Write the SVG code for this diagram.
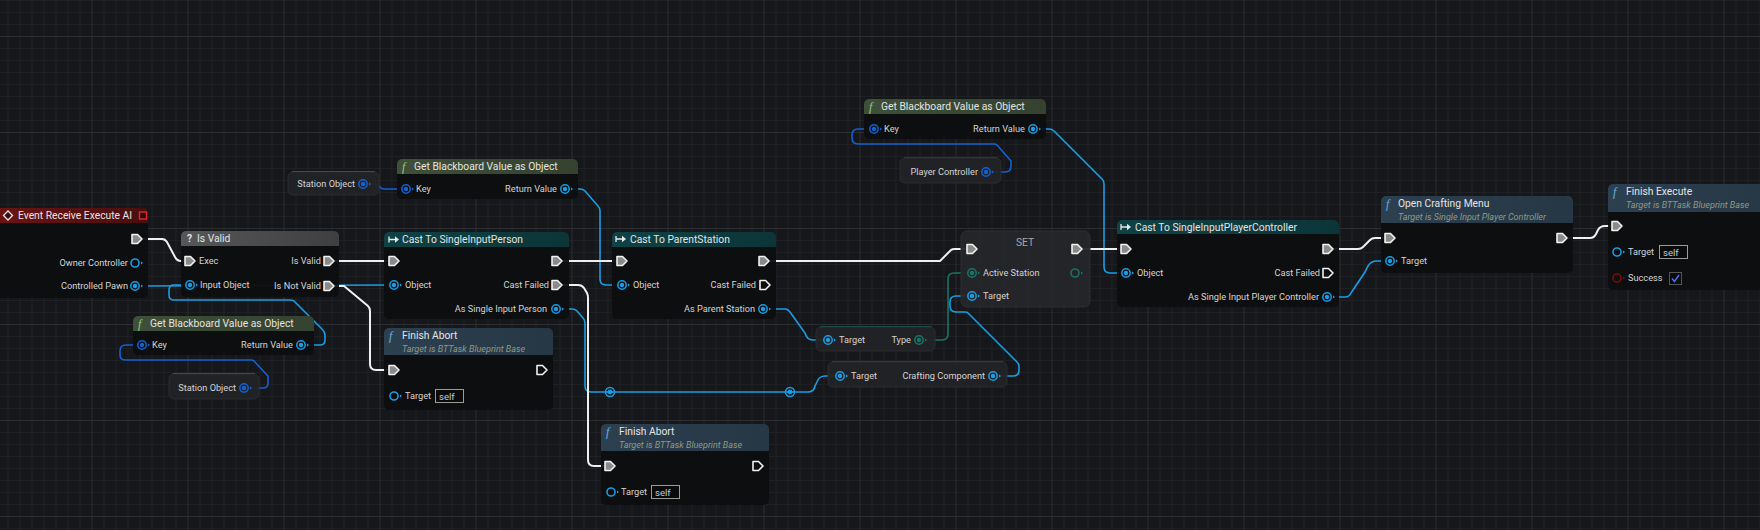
<svg xmlns="http://www.w3.org/2000/svg" xmlns:xlink="http://www.w3.org/1999/xlink" width="1760" height="530" viewBox="0 0 1760 530">
<style>
text{font-family:Roboto,"Liberation Sans",sans-serif}
.t{font-size:10.3px;fill:#e4e4e4}
.p{font-size:9.2px;fill:#d4d4d4}
.s{font-size:9px;font-style:italic;fill:#8e9a84}
.r{text-anchor:end}
.body{fill:#0d0e10;fill-opacity:.95}
.var{fill:#222326;fill-opacity:.95;stroke:#2c2d30;stroke-width:1}
.w{stroke:#efefef;stroke-width:2;fill:none}
.b{stroke:#1b9de4;stroke-width:1.6;fill:none}
.db{stroke:#1461d2;stroke-width:1.6;fill:none}
.tl{stroke:#177566;stroke-width:1.6;fill:none}
.fn{font-family:"Liberation Serif",serif;font-style:italic;font-size:12px}
.self{fill:#0b0b0c;stroke:#9a9a9a;stroke-width:1}
</style>
<defs>
<pattern id="grid" patternUnits="userSpaceOnUse" x="91.5" y="36" width="96" height="96">
<rect width="96" height="96" fill="#16171a"/>
<path d="M12.5,0V96M24.5,0V96M36.5,0V96M48.5,0V96M60.5,0V96M72.5,0V96M84.5,0V96M0,12.5H96M0,24.5H96M0,36.5H96M0,48.5H96M0,60.5H96M0,72.5H96M0,84.5H96" stroke="#1f2023" stroke-width="1"/>
<path d="M0.5,0V96M0,0.5H96" stroke="#2c2d30" stroke-width="1"/>
</pattern>
<linearGradient id="gEv" x1="0" x2="1"><stop offset="0" stop-color="#6e1414"/><stop offset="1" stop-color="#4a0e0e"/></linearGradient>
<linearGradient id="gIv" x1="0" x2="1"><stop offset="0" stop-color="#575759"/><stop offset="1" stop-color="#3f3f41"/></linearGradient>
<linearGradient id="gBb" x1="0" x2="1"><stop offset="0" stop-color="#3f4f39"/><stop offset="1" stop-color="#34422f"/></linearGradient>
<linearGradient id="gCa" x1="0" x2="1"><stop offset="0" stop-color="#0f4245"/><stop offset="1" stop-color="#0c3538"/></linearGradient>
<linearGradient id="gFn" x1="0" x2="1"><stop offset="0" stop-color="#2d4050"/><stop offset="1" stop-color="#263745"/></linearGradient>
<g id="exC"><path d="M-5,-4.5H0.5L5,0L0.5,4.5H-5Z" fill="#8a8a8a" stroke="#f2f2f2" stroke-width="1.6" stroke-linejoin="round"/></g>
<g id="exU"><path d="M-5,-4.5H0.5L5,0L0.5,4.5H-5Z" fill="#0d0e10" stroke="#f2f2f2" stroke-width="1.6" stroke-linejoin="round"/></g>
<g id="obC"><circle r="4.2" fill="none" stroke="#1b9de4" stroke-width="1.5"/><circle r="2.2" fill="#1b9de4"/><path d="M6,-1.5L8,0L6,1.5Z" fill="#1b9de4"/></g>
<g id="obU"><circle r="4" fill="none" stroke="#1b9de4" stroke-width="1.6"/><path d="M6,-1.5L8,0L6,1.5Z" fill="#1b9de4"/></g>
<g id="stC"><circle r="4.2" fill="none" stroke="#1461d2" stroke-width="1.5"/><circle r="2.2" fill="#1461d2"/><path d="M6,-1.5L8,0L6,1.5Z" fill="#1461d2"/></g>
<g id="tlC"><circle r="4.2" fill="none" stroke="#177566" stroke-width="1.5"/><circle r="2.2" fill="#177566"/><path d="M6,-1.5L8,0L6,1.5Z" fill="#177566"/></g>
<g id="tlU"><circle r="4" fill="none" stroke="#177566" stroke-width="1.6"/><path d="M6,-1.5L8,0L6,1.5Z" fill="#177566"/></g>
<g id="rdU"><circle r="4" fill="none" stroke="#7a0b0b" stroke-width="1.6"/><path d="M6,-1.5L8,0L6,1.5Z" fill="#7a0b0b"/></g>
<g id="knot"><circle r="4.5" fill="none" stroke="#1b9de4" stroke-width="1.5"/><circle r="2.4" fill="#1b9de4"/></g>
<g id="castIc"><path d="M0,-3V3M0,0H7" stroke="#e8e8e8" stroke-width="1.3" fill="none"/><path d="M6,-3.2L10,0L6,3.2Z" fill="#e8e8e8"/></g>
</defs>
<rect width="1760" height="530" fill="url(#grid)"/>

<g id="connectors">
<path class="b" d="M141,286L394,285"/>
<path class="w" d="M143,239H162Q165,239 167,242L175,257Q177,261 181,261H190"/>
<path class="b" d="M306,345H320Q325,345 325,340V335Q325,332 322,329L294,301Q293,300 290,300H174Q169,300 169,295V290Q169,285 174,285H190"/>
<path class="db" d="M249,388H263Q268,388 268,383V376L254,361Q253,360 251,360H126Q120,360 120,355V351Q120,345 126,345H142"/>
<path class="w" d="M334,261H394"/>
<path class="w" d="M334,286H344L368,306Q370,308 370,311V364Q370,370 376,370H394"/>
<path class="db" d="M368,184H374Q377,184 379,186L381,188Q382,189 385,189H406"/>
<path class="b" d="M570,189H580Q583,189 585,191L598,206Q600,208 600,211V279Q600,285 606,285H622"/>
<path class="w" d="M562,261H622"/>
<path class="b" d="M561,309H572Q575,309 577,311L583,318Q585,320 585,323V386Q585,392 591,392H610"/>
<path class="w" d="M562,285H578Q582,285 584,288L587,293Q588,295 588,298V460Q588,466 594,466H610"/>
<path class="b" d="M610,392H790"/>
<path class="b" d="M790,392H808Q814,392 815,386L817,382Q819,376 825,376H840"/>
<path class="b" d="M768,309H785Q788,309 790,312L805,333Q807,340 813,340H828"/>
<path class="tl" d="M924,340H942Q948,340 948,334V279Q948,273 954,273H972"/>
<path class="b" d="M998,376H1013Q1019,376 1019,370V366Q1019,364 1017,362L968,313Q967,312 965,312H956Q950,312 950,306V302Q950,296 956,296H972"/>
<path class="w" d="M769,261H940L951,250Q952,249 955,249H972"/>
<path class="db" d="M991,172H1005Q1011,172 1011,166V161L997,145Q996,144 994,144H858Q852,144 852,138V135Q852,129 858,129H874"/>
<path class="b" d="M1038,129H1049Q1052,129 1054,131L1102,179Q1104,181 1104,184V267Q1104,273 1110,273H1126"/>
<path class="w" d="M1082,249H1126"/>
<path class="w" d="M1333,249H1358Q1361,249 1363,247L1370,240Q1372,238 1375,238H1390"/>
<path class="b" d="M1332,297H1345Q1349,297 1351,293L1365,272Q1367,268 1368,266Q1371,261 1377,261H1390"/>
<path class="w" d="M1567,238H1590Q1594,238 1596,234L1598,230Q1600,226 1605,226H1617"/>
</g>

<g id="reroute1"><use href="#knot" x="610" y="392"/></g>
<g id="reroute2"><use href="#knot" x="790" y="392"/></g>

<g id="eventReceiveExecuteAI">
<rect class="body" x="-10" y="208" width="158" height="90" rx="5"/>
<rect x="-10" y="208" width="158" height="15" rx="5" fill="url(#gEv)"/>
<rect x="-10" y="213" width="158" height="10" fill="url(#gEv)"/>
<path d="M8,211L12.5,215.5L8,220L3.5,215.5Z" fill="#3a0c0c" stroke="#e8e8e8" stroke-width="1.3"/>
<text class="t" x="18" y="219.3">Event Receive Execute AI</text>
<rect x="139.5" y="212" width="7" height="7" fill="#2a0808" stroke="#e42a2a" stroke-width="1.4"/>
<use href="#exC" x="137" y="239"/>
<text class="p r" x="128" y="266.2">Owner Controller</text>
<use href="#obU" x="135" y="263"/>
<text class="p r" x="128" y="289.2">Controlled Pawn</text>
<use href="#obC" x="135" y="286"/>
</g>

<g id="isValid">
<rect class="body" x="181" y="231" width="158" height="66" rx="5"/>
<rect x="181" y="231" width="158" height="15" rx="5" fill="url(#gIv)"/>
<rect x="181" y="236" width="158" height="10" fill="url(#gIv)"/>
<text class="t" x="187" y="242.3" font-weight="bold">?</text>
<text class="t" x="197" y="242.3">Is Valid</text>
<use href="#exC" x="190" y="261"/>
<text class="p" x="199" y="264.2">Exec</text>
<use href="#obC" x="190" y="285"/>
<text class="p" x="200" y="288.2">Input Object</text>
<text class="p r" x="321" y="264.2">Is Valid</text>
<use href="#exC" x="329" y="261"/>
<text class="p r" x="321" y="289.2">Is Not Valid</text>
<use href="#exC" x="329" y="286"/>
</g>

<g id="getBlackboard1">
<rect class="body" x="133" y="316" width="181" height="39" rx="5"/>
<rect x="133" y="316" width="181" height="15" rx="5" fill="url(#gBb)"/>
<rect x="133" y="321" width="181" height="10" fill="url(#gBb)"/>
<text class="fn" x="138" y="327.5" fill="#8fd07a">f</text>
<text class="t" x="150" y="327.3">Get Blackboard Value as Object</text>
<use href="#stC" x="142" y="345"/>
<text class="p" x="152" y="348.2">Key</text>
<text class="p r" x="293" y="348.2">Return Value</text>
<use href="#obC" x="301" y="345"/>
</g>

<g id="stationObject1">
<rect class="var" x="169" y="374" width="90" height="25" rx="5"/>
<path d="M173,373.5H255" stroke="#1b4f8c" stroke-width="1"/>
<text class="p r" x="236" y="391.2">Station Object</text>
<use href="#stC" x="244" y="388"/>
</g>

<g id="stationObject2">
<rect class="var" x="288" y="172" width="91" height="23" rx="5"/>
<path d="M292,171.5H375" stroke="#1b4f8c" stroke-width="1"/>
<text class="p r" x="355" y="187.2">Station Object</text>
<use href="#stC" x="363" y="184"/>
</g>

<g id="getBlackboard2">
<rect class="body" x="397" y="159" width="181" height="40" rx="5"/>
<rect x="397" y="159" width="181" height="15" rx="5" fill="url(#gBb)"/>
<rect x="397" y="164" width="181" height="10" fill="url(#gBb)"/>
<text class="fn" x="402" y="170.5" fill="#8fd07a">f</text>
<text class="t" x="414" y="170.3">Get Blackboard Value as Object</text>
<use href="#stC" x="406" y="189"/>
<text class="p" x="416" y="192.2">Key</text>
<text class="p r" x="557" y="192.2">Return Value</text>
<use href="#obC" x="565" y="189"/>
</g>

<g id="castToSingleInputPerson">
<rect class="body" x="384" y="232" width="185" height="87" rx="5"/>
<rect x="384" y="232" width="185" height="15" rx="5" fill="url(#gCa)"/>
<rect x="384" y="237" width="185" height="10" fill="url(#gCa)"/>
<use href="#castIc" x="389" y="239.5"/>
<text class="t" x="402" y="243.3">Cast To SingleInputPerson</text>
<use href="#exC" x="394" y="261"/>
<use href="#obC" x="394" y="285"/>
<text class="p" x="405" y="288.2">Object</text>
<use href="#exC" x="557" y="261"/>
<text class="p r" x="549" y="288.2">Cast Failed</text>
<use href="#exC" x="557" y="285"/>
<text class="p r" x="547" y="312.2">As Single Input Person</text>
<use href="#obC" x="556" y="309"/>
</g>

<g id="finishAbort1">
<rect class="body" x="384" y="328" width="169" height="82" rx="5"/>
<rect x="384" y="328" width="169" height="27" rx="5" fill="url(#gFn)"/>
<rect x="384" y="333" width="169" height="22" fill="url(#gFn)"/>
<text class="fn" x="389" y="340" fill="#5fb2ea">f</text>
<text class="t" x="402" y="339">Finish Abort</text>
<text class="s" x="402" y="352">Target is BTTask Blueprint Base</text>
<use href="#exC" x="394" y="370"/>
<use href="#exU" x="542" y="370"/>
<use href="#obU" x="394" y="396"/>
<text class="p" x="405" y="399.2">Target</text>
<rect class="self" x="435.5" y="389.5" width="28" height="13"/>
<text x="439" y="399.5" font-size="9.6" fill="#c8c8c8">self</text>
</g>

<g id="castToParentStation">
<rect class="body" x="612" y="232" width="164" height="87" rx="5"/>
<rect x="612" y="232" width="164" height="15" rx="5" fill="url(#gCa)"/>
<rect x="612" y="237" width="164" height="10" fill="url(#gCa)"/>
<use href="#castIc" x="616" y="239"/>
<text class="t" x="630" y="243">Cast To ParentStation</text>
<use href="#exC" x="622" y="261"/>
<use href="#obC" x="622" y="285"/>
<text class="p" x="633" y="288.2">Object</text>
<use href="#exC" x="764" y="261"/>
<text class="p r" x="756" y="288.2">Cast Failed</text>
<use href="#exU" x="765" y="285"/>
<text class="p r" x="755" y="312.2">As Parent Station</text>
<use href="#obC" x="763" y="309"/>
</g>

<g id="finishAbort2">
<rect class="body" x="601" y="424" width="168" height="81" rx="5"/>
<rect x="601" y="424" width="168" height="27" rx="5" fill="url(#gFn)"/>
<rect x="601" y="429" width="168" height="22" fill="url(#gFn)"/>
<text class="fn" x="606" y="436" fill="#5fb2ea">f</text>
<text class="t" x="619" y="435">Finish Abort</text>
<text class="s" x="619" y="448">Target is BTTask Blueprint Base</text>
<use href="#exC" x="610" y="466"/>
<use href="#exU" x="758" y="466"/>
<use href="#obU" x="611" y="492"/>
<text class="p" x="621" y="495.2">Target</text>
<rect class="self" x="651.5" y="485.5" width="28" height="13"/>
<text x="655" y="495.5" font-size="9.6" fill="#c8c8c8">self</text>
</g>

<g id="getType">
<rect class="var" x="816" y="327" width="119" height="24" rx="5"/>
<path d="M820,326.5H931" stroke="#1d4a48" stroke-width="1"/>
<use href="#obC" x="828" y="340"/>
<text class="p" x="839" y="343.2">Target</text>
<text class="p r" x="911" y="343.2">Type</text>
<use href="#tlC" x="919" y="340"/>
</g>

<g id="getCraftingComponent">
<rect class="var" x="828" y="362" width="179" height="25" rx="5"/>
<path d="M832,361.5H1003" stroke="#1d3f58" stroke-width="1"/>
<use href="#obC" x="840" y="376"/>
<text class="p" x="851" y="379.2">Target</text>
<text class="p r" x="985" y="379.2">Crafting Component</text>
<use href="#obC" x="993" y="376"/>
</g>

<g id="setActiveStation">
<rect x="961" y="231" width="129" height="76" rx="6" fill="#25262a" fill-opacity=".96" stroke="#2e2f33"/>
<text x="1025" y="246" text-anchor="middle" font-size="10.3" fill="#a8a8a8">SET</text>
<use href="#exC" x="972" y="249"/>
<use href="#exC" x="1077" y="249"/>
<use href="#tlC" x="972" y="273"/>
<text class="p" x="983" y="276.2">Active Station</text>
<use href="#tlU" x="1075" y="273"/>
<use href="#obC" x="972" y="296"/>
<text class="p" x="983" y="299.2">Target</text>
</g>

<g id="getBlackboard3">
<rect class="body" x="864" y="99" width="182" height="40" rx="5"/>
<rect x="864" y="99" width="182" height="15" rx="5" fill="url(#gBb)"/>
<rect x="864" y="104" width="182" height="10" fill="url(#gBb)"/>
<text class="fn" x="869" y="110.5" fill="#8fd07a">f</text>
<text class="t" x="881" y="110.3">Get Blackboard Value as Object</text>
<use href="#stC" x="874" y="129"/>
<text class="p" x="884" y="132.2">Key</text>
<text class="p r" x="1025" y="132.2">Return Value</text>
<use href="#obC" x="1033" y="129"/>
</g>

<g id="playerController">
<rect class="var" x="900" y="158" width="101" height="25" rx="5"/>
<path d="M904,157.5H997" stroke="#23384a" stroke-width="1"/>
<text class="p r" x="978" y="175.2">Player Controller</text>
<use href="#stC" x="986" y="172"/>
</g>

<g id="castToSingleInputPlayerController">
<rect class="body" x="1117" y="220" width="222" height="87" rx="5"/>
<rect x="1117" y="220" width="222" height="14" rx="5" fill="url(#gCa)"/>
<rect x="1117" y="225" width="222" height="9" fill="url(#gCa)"/>
<use href="#castIc" x="1121" y="227"/>
<text class="t" x="1135" y="230.8">Cast To SingleInputPlayerController</text>
<use href="#exC" x="1126" y="249"/>
<use href="#obC" x="1126" y="273"/>
<text class="p" x="1137" y="276.2">Object</text>
<use href="#exC" x="1328" y="249"/>
<text class="p r" x="1320" y="276.2">Cast Failed</text>
<use href="#exU" x="1328" y="273"/>
<text class="p r" x="1319" y="300.2">As Single Input Player Controller</text>
<use href="#obC" x="1327" y="297"/>
</g>

<g id="openCraftingMenu">
<rect class="body" x="1381" y="196" width="192" height="77" rx="5"/>
<rect x="1381" y="196" width="192" height="27" rx="5" fill="url(#gFn)"/>
<rect x="1381" y="201" width="192" height="22" fill="url(#gFn)"/>
<text class="fn" x="1386" y="208" fill="#5fb2ea">f</text>
<text class="t" x="1398" y="207">Open Crafting Menu</text>
<text class="s" x="1398" y="219.5">Target is Single Input Player Controller</text>
<use href="#exC" x="1390" y="238"/>
<use href="#obC" x="1390" y="261"/>
<text class="p" x="1401" y="264.2">Target</text>
<use href="#exC" x="1562" y="238"/>
</g>

<g id="finishExecute">
<rect class="body" x="1608" y="184" width="170" height="106" rx="5"/>
<rect x="1608" y="184" width="170" height="28" rx="5" fill="url(#gFn)"/>
<rect x="1608" y="189" width="170" height="23" fill="url(#gFn)"/>
<text class="fn" x="1613" y="196" fill="#5fb2ea">f</text>
<text class="t" x="1626" y="195">Finish Execute</text>
<text class="s" x="1626" y="208">Target is BTTask Blueprint Base</text>
<use href="#exC" x="1617" y="226"/>
<use href="#obU" x="1617" y="252"/>
<text class="p" x="1628" y="255.2">Target</text>
<rect class="self" x="1659.5" y="245.5" width="28" height="13"/>
<text x="1663" y="255.5" font-size="9.6" fill="#c8c8c8">self</text>
<use href="#rdU" x="1617" y="278"/>
<text class="p" x="1628" y="281.2">Success</text>
<rect x="1669.5" y="272.5" width="12" height="12" fill="#0b0b0c" stroke="#555" stroke-width="1"/>
<path d="M1672,278.5L1674.5,281.5L1679,275" stroke="#4d6cf2" stroke-width="1.6" fill="none"/>
</g>
</svg>
